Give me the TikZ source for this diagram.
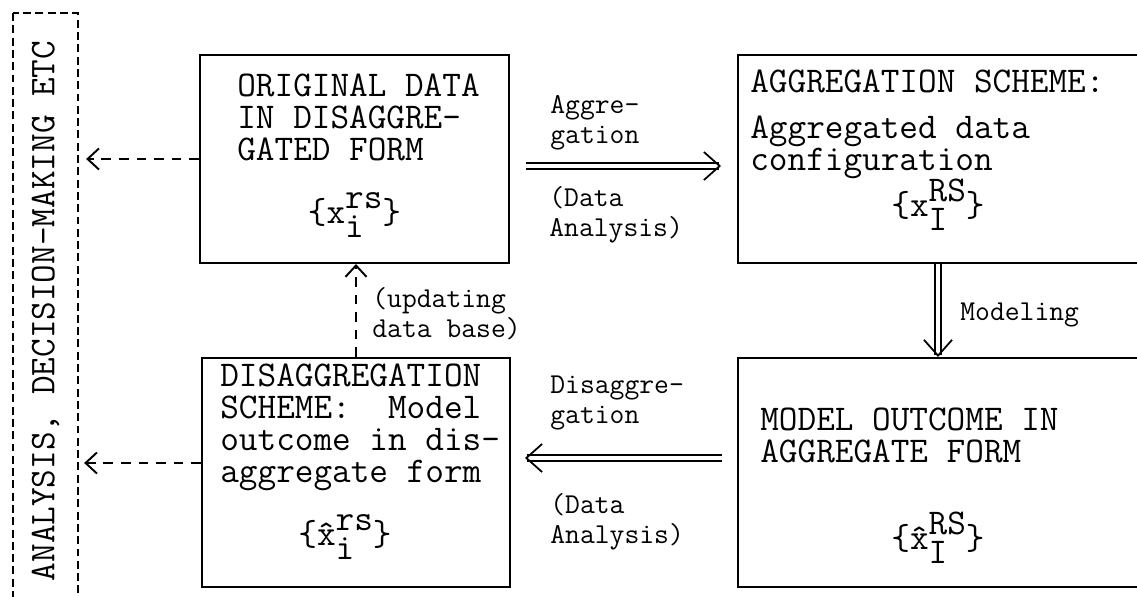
\documentclass[tikz,border=0pt]{standalone}
\usetikzlibrary{arrows.meta}

% typed set {x^{sup}_{sub}}, scripts raised/lowered as on a typewriter
\newcommand{\tset}[3]{\{#1\rlap{\raisebox{-.38em}{#3}}\raisebox{.44em}{#2}\}}

\tikzset{
  box/.style={draw, line width=1.2pt, inner sep=0pt},
  txt/.style={inner sep=0pt, anchor=north west, align=left,
    font=\fontsize{20.6}{18.2}\selectfont\ttfamily},
  lbl/.style={inner sep=0pt, anchor=north west, align=left,
    font=\fontsize{16.4}{17}\selectfont\ttfamily},
  setof/.style={inner sep=0pt, anchor=base,
    font=\fontsize{20.6}{18.2}\selectfont\ttfamily},
  dblarrow/.style={double, line width=0.9pt, double distance=2.6pt,
    -{Straight Barb[line width=1pt, length=9pt, width=16pt]}},
  dasharrow/.style={line width=1.1pt, dash pattern=on 5.5pt off 4.5pt,
    -{Straight Barb[length=6.5pt,width=12pt]}},
}

\begin{document}
\begin{tikzpicture}[x=0.02cm, y=-0.02cm]
    \useasboundingbox (0,0) rectangle (1137,597);
    \clip (0,0) rectangle (1137,597);

    % dashed column on the left
    \node[draw, line width=1.3pt, dash pattern=on 4.5pt off 2.5pt, rotate=90,
        minimum width=11.92cm, minimum height=1.3cm, inner sep=0pt,
        font=\fontsize{20.6}{18.2}\selectfont\ttfamily]
        (side) at (45.5,311) {ANALYSIS, DECISION-MAKING ETC};

    % the four boxes
    \node[box, minimum width=6.18cm, minimum height=4.16cm] (orig) at (354.5,159) {};
    \node[box, minimum width=8cm, minimum height=4.16cm] (aggr) at (938,159) {};
    \node[box, minimum width=8cm, minimum height=4.58cm] (mdl) at (938,472.5) {};
    \node[box, minimum width=6.16cm, minimum height=4.58cm] (dis) at (356,472.5) {};

    % box contents
    \node[txt] (origtxt) at (237,74) {ORIGINAL DATA\\IN DISAGGRE-\\GATED FORM};
    \node[setof] (origset) at (354.5,224) {\tset{x}{rs}{i}};

    \node[txt] (aggrhead) at (750,70) {AGGREGATION SCHEME:};
    \node[txt] (aggrtxt) at (750,116) {Aggregated data\\configuration};
    \node[setof] (aggrset) at (938,217) {\tset{x}{RS}{I}};

    \node[txt] (mdltxt) at (760,408) {MODEL OUTCOME IN\\AGGREGATE FORM};
    \node[setof] (mdlset) at (938,550) {\tset{\^{x}}{RS}{I}};

    \node[txt] (distxt) at (220,364)
        {DISAGGREGATION\\SCHEME:~~Model\\outcome in dis-\\aggregate form};
    \node[setof] (disset) at (345,546) {\tset{\^{x}}{rs}{i}};

    % arrow labels
    \node[lbl] (aggrlbl) at (550,95) {Aggre-\\gation};
    \node[lbl] (aggrnote) at (549,186) {(Data\\Analysis)};
    \node[lbl, anchor=base west] (modlbl) at (960,321) {Modeling};
    \node[lbl] (updlbl) at (372,287) {(updating\\data base)};
    \node[lbl] (dislbl) at (550,376) {Disaggre-\\gation};
    \node[lbl] (disnote) at (550,493) {(Data\\Analysis)};

    % connectors
    \draw[dblarrow, shorten <=0.32cm, shorten >=0.32cm]
        ([yshift=-4pt]orig.east) -- ([yshift=-4pt]aggr.west);
    \draw[dblarrow] (aggr.south) -- (mdl.north);
    \draw[dblarrow, shorten <=0.3cm, shorten >=0.28cm]
        ([yshift=8.25pt]mdl.west) -- ([yshift=8.25pt]dis.east);

    \coordinate (dw) at ([yshift=5.4pt]dis.west);
    \draw[dasharrow, shorten >=0.14cm] (orig.west) -- (orig.west -| side.south);
    \draw[dasharrow, shorten >=0.1cm] (dw) -- (dw -| side.south);
    \draw[dasharrow] (dis.north) -- (dis.north |- orig.south);
\end{tikzpicture}
\end{document}
